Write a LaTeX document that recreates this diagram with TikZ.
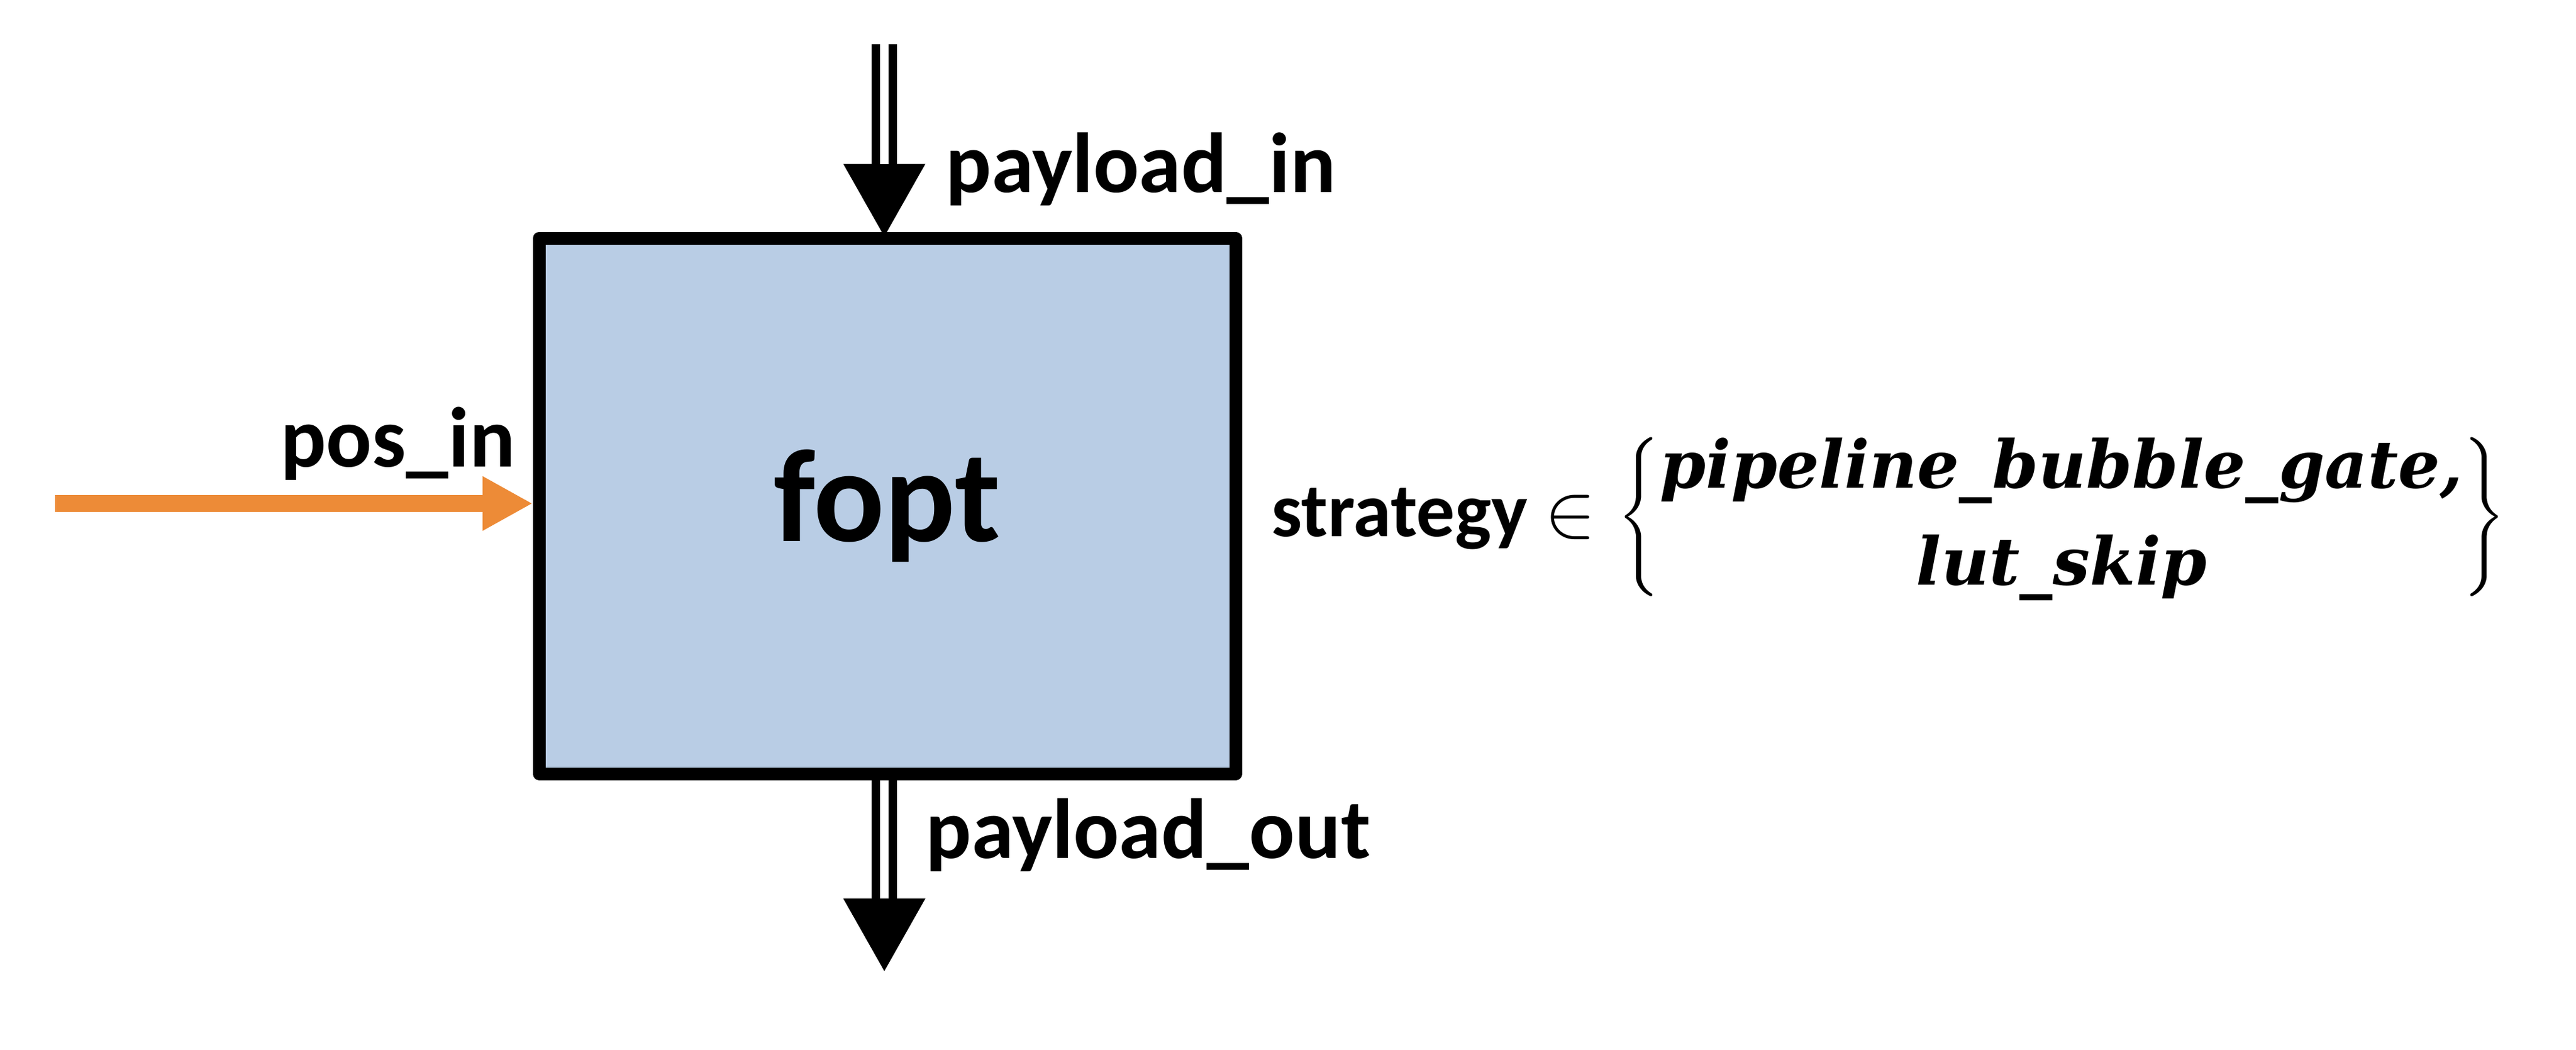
\RequirePackage{fix-cm}
\documentclass[tikz,border=0pt]{standalone}
\usepackage{amsmath}
\usepackage{fontspec}
\setmainfont{Carlito}
\newfontfamily\choicefamily{DejaVu Serif}
\usetikzlibrary{arrows.meta}
\definecolor{boxblue}{RGB}{185,205,229}
\definecolor{posorange}{RGB}{237,139,55}
\newcommand{\choicefont}{\choicefamily\fontsize{31}{45.5}\selectfont\bfseries\itshape}
\tikzset{
	block/.style={draw=black, fill=boxblue, line width=0.21cm, line join=round, minimum width=11.5cm, minimum height=8.84cm, inner sep=0pt, font=\fontsize{62}{70}\selectfont\bfseries},
	lbl/.style={inner sep=0pt, font=\fontsize{40}{48}\selectfont\bfseries},
	stratlbl/.style={inner sep=0pt, font=\fontsize{36}{45.5}\selectfont\bfseries},
	busarrow/.style={line width=0.42cm, -{Triangle[length=1.22cm, width=1.26cm]}},
	busgap/.style={white, line width=0.14cm, shorten >=1.22cm},
	posarrow/.style={posorange, line width=0.28cm, -{Triangle[length=0.83cm, width=0.84cm]}},
}

\begin{document}
\begin{tikzpicture}
		%%%%% START %%%%%
		\useasboundingbox (0, 0) rectangle (42.53, -17.32);
		
		\node[block] (fopt) at (14.65, -8.35) {fopt};
		
		\coordinate (busin) at (14.60, -0.73);
		\coordinate (busout) at (14.60, -16.05);
		\coordinate (posin) at (0.91, -8.31);
		
		% payload bus in and out
		\draw[busarrow, shorten >=-0.1cm] (busin) -- (busin |- fopt.north);
		\draw[busgap, shorten >=1.12cm] (busin) -- (busin |- fopt.north);
		\draw[busarrow] (busout |- fopt.south) -- (busout);
		\draw[busgap] (busout |- fopt.south) -- (busout);
		
		% position input
		\draw[posarrow] (posin) -- (posin -| fopt.west);
		
		\node[lbl, anchor=base west] (pinlbl) at (15.61, -3.17) {payload\_in};
		\node[lbl, anchor=base west] (poutlbl) at (15.28, -14.16) {payload\_out};
		\node[lbl, anchor=base east] (poslbl) at (8.51, -7.70) {pos\_in};
		
		\node[stratlbl, anchor=base west] (strat) at (20.99, -8.85) {strategy $\delimiterfactor=790 \delimitershortfall=60pt \arraycolsep=0pt
			\in \left\{\begin{array}{c}
				\mbox{\choicefont pipeline\_bubble\_gate,}\\
				\mbox{\choicefont lut\_skip}
			\end{array}\right\}$};
		
		%%%%% END %%%%%
\end{tikzpicture}
\end{document}
